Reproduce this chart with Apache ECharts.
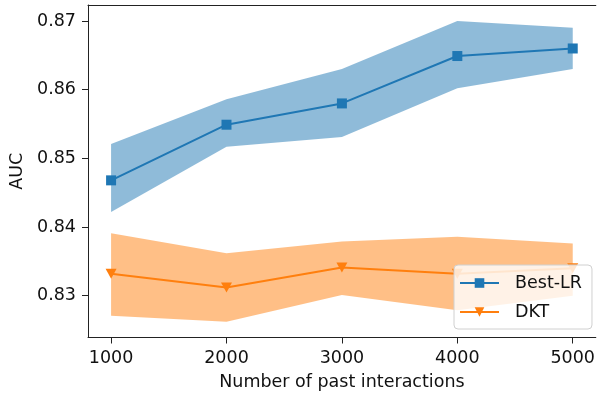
<!DOCTYPE html>
<html>
<head>
<meta charset="utf-8">
<script src="https://cdn.jsdelivr.net/npm/echarts@6/dist/echarts.min.js"></script>
<style>
html,body{margin:0;padding:0;background:#fff;}
#chart{width:598px;height:399px;}
</style>
</head>
<body>
<div id="chart"></div>
<script>
const xValues = [1000, 2000, 3000, 4000, 5000];
const bestLR = [0.8468, 0.8549, 0.8580, 0.8649, 0.8660];
const bestLRUpper = [0.8521, 0.8586, 0.8630, 0.8700, 0.8690];
const bestLRLower = [0.8422, 0.8517, 0.8531, 0.8602, 0.8630];
const dkt = [0.8332, 0.8312, 0.8341, 0.8332, 0.8340];
const dktUpper = [0.8391, 0.8362, 0.8379, 0.8386, 0.8376];
const dktLower = [0.8271, 0.8262, 0.8301, 0.8279, 0.8300];
const xTicks = [1000, 2000, 3000, 4000, 5000];
const yTicks = [0.83, 0.84, 0.85, 0.86, 0.87];

const FONT = 'DejaVu Sans';
const FS = 17.5;

function band(upper, lower, color) {
  return {
    type: 'custom',
    silent: true,
    z: 1,
    data: xValues.map((x, i) => [x, upper[i], lower[i]]),
    encode: { x: 0, y: [1, 2] },
    renderItem: function (params, api) {
      if (params.dataIndex !== 0) return null;
      const pts = [];
      for (let i = 0; i < xValues.length; i++) pts.push(api.coord([xValues[i], upper[i]]));
      for (let i = xValues.length - 1; i >= 0; i--) pts.push(api.coord([xValues[i], lower[i]]));
      return { type: 'polygon', shape: { points: pts }, style: { fill: color, opacity: 0.5 } };
    }
  };
}

const chart = echarts.init(document.getElementById('chart'), null, { renderer: 'canvas' });
chart.setOption({
  animation: false,
  backgroundColor: '#fff',
  textStyle: { fontFamily: FONT },
  grid: { left: 88, top: 5, right: -1, bottom: 61.5, show: false },
  xAxis: [{
    type: 'value', min: 800, max: 5200,
    name: 'Number of past interactions', nameLocation: 'middle', nameGap: 36,
    nameTextStyle: { fontFamily: FONT, fontSize: FS, color: '#111' },
    axisLine: { lineStyle: { color: '#222', width: 1 } },
    axisTick: { show: true, length: 6, lineStyle: { color: '#222' }, customValues: xTicks },
    axisLabel: { fontFamily: FONT, fontSize: FS, color: '#111', margin: 12, customValues: xTicks, formatter: v => String(v) },
    splitLine: { show: false }
  }, {
    type: 'value', min: 800, max: 5200, position: 'top',
    axisLine: { show: true, lineStyle: { color: '#222', width: 1 } },
    axisTick: { show: false }, axisLabel: { show: false }, splitLine: { show: false }
  }],
  yAxis: {
    type: 'value', min: 0.82392, max: 0.87233,
    name: 'AUC', nameLocation: 'middle', nameGap: 62, nameRotate: 90,
    nameTextStyle: { fontFamily: FONT, fontSize: FS, color: '#111' },
    axisLine: { show: true, lineStyle: { color: '#222', width: 1 } },
    axisTick: { show: true, length: 6, lineStyle: { color: '#222' }, customValues: yTicks },
    axisLabel: { fontFamily: FONT, fontSize: FS, color: '#111', margin: 12, customValues: yTicks, formatter: v => v.toFixed(2) },
    splitLine: { show: false }
  },
  legend: {
    data: ['Best-LR', 'DKT'],
    orient: 'vertical',
    left: 454, top: 265,
    padding: [9, 10, 8, 5],
    itemWidth: 39, itemHeight: 12, itemGap: 11,
    backgroundColor: 'rgba(255,255,255,0.8)',
    borderColor: '#d0d0d0', borderWidth: 1, borderRadius: 4,
    textStyle: { fontFamily: FONT, fontSize: FS, color: '#111', padding: [0, 0, 0, 11] }
  },
  series: [
    band(bestLRUpper, bestLRLower, '#1f77b4'),
    band(dktUpper, dktLower, '#ff7f0e'),
    {
      name: 'Best-LR', type: 'line', z: 3,
      data: xValues.map((x, i) => [x, bestLR[i]]),
      symbol: 'rect', symbolSize: 10, showSymbol: true,
      itemStyle: { color: '#1f77b4' },
      lineStyle: { color: '#1f77b4', width: 2 }
    },
    {
      name: 'DKT', type: 'line', z: 3,
      data: xValues.map((x, i) => [x, dkt[i]]),
      symbol: 'triangle', symbolRotate: 180, symbolSize: [11, 10], showSymbol: true,
      itemStyle: { color: '#ff7f0e' },
      lineStyle: { color: '#ff7f0e', width: 2 }
    }
  ]
});
</script>
</body>
</html>
